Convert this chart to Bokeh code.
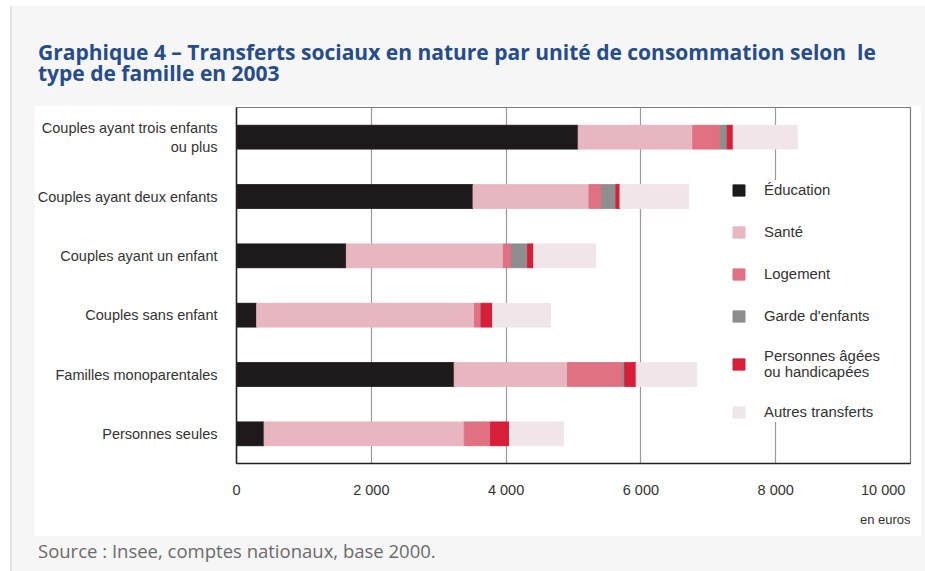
from bokeh.plotting import figure
from bokeh.models import (ColumnDataSource, FactorRange, Range1d, Legend, LegendItem,
                          Title, Div, FixedTicker, Spacer)
from bokeh.layouts import column, row
from bokeh.embed import file_html
from bokeh.resources import INLINE

# ---- data (euros par unité de consommation) ----
categories = ["Couples ayant trois enfants\nou plus", "Couples ayant deux enfants",
              "Couples ayant un enfant", "Couples sans enfant",
              "Familles monoparentales", "Personnes seules"]
education = [5070, 3510, 1630, 300, 3230, 410]
sante = [1700, 1720, 2330, 3230, 1680, 2970]
logement = [410, 190, 120, 100, 820, 390]
garde = [100, 210, 240, 0, 30, 0]
personnes = [90, 60, 90, 170, 170, 280]
autres = [950, 1020, 920, 860, 900, 800]

series_keys = ["education", "sante", "logement", "garde", "personnes", "autres"]
series_labels = ["Éducation", "Santé", "Logement", "Garde d'enfants",
                 "Personnes âgées\nou handicapées", "Autres transferts"]
colors = ["#1e1a1b", "#e8b6c0", "#e07182", "#8e8e8e", "#d71f3a", "#f0e5e9"]
x_ticks = [0, 2000, 4000, 6000, 8000, 10000]
x_tick_labels = ["0", "2 000", "4 000", "6 000", "8 000", "10 000"]

source = ColumnDataSource(dict(cat=categories, education=education, sante=sante,
                               logement=logement, garde=garde, personnes=personnes,
                               autres=autres))

FONT = "Liberation Sans"
TXT = "#333333"
PAGE_BG = "#f6f6f6"

p = figure(width=887, height=431, output_backend="svg", toolbar_location=None,
           y_range=FactorRange(factors=list(reversed(categories))),
           x_range=Range1d(0, 10000),
           min_border_left=202, min_border_right=11, min_border_top=2,
           min_border_bottom=73, border_fill_color="white",
           background_fill_color="white", outline_line_color="#7a7a7a",
           outline_line_width=1.2, margin=0)

renderers = p.hbar_stack(series_keys, y="cat", height=0.4, color=colors, source=source)

# axes
p.xaxis.ticker = FixedTicker(ticks=x_ticks)
overrides = {t: l for t, l in zip(x_ticks, x_tick_labels)}
# the last label sits left of its tick (inside the panel): pad it with figure spaces
overrides[x_ticks[-1]] = x_tick_labels[-1] + "\u2007" * 2
p.xaxis.major_label_overrides = overrides
p.xaxis.major_tick_line_color = None
p.xaxis.minor_tick_line_color = None
p.xaxis.axis_line_color = "#222222"
p.xaxis.axis_line_width = 1.5
p.xaxis.major_label_standoff = 12
p.xaxis.major_label_text_font = FONT
p.xaxis.major_label_text_font_size = "14.5px"
p.xaxis.major_label_text_color = TXT

p.yaxis.major_tick_line_color = None
p.yaxis.minor_tick_line_color = None
p.yaxis.axis_line_color = "#222222"
p.yaxis.axis_line_width = 1.5
p.yaxis.major_label_standoff = 13
p.yaxis.major_label_text_font = FONT
p.yaxis.major_label_text_font_size = "14.5px"
p.yaxis.major_label_text_color = TXT

p.ygrid.grid_line_color = None
p.xgrid.grid_line_color = "#9a9a9a"
p.xgrid.grid_line_width = 1.2

p.add_layout(Title(text="en euros", align="right", text_font=FONT, text_font_size="13px",
                   text_font_style="normal", text_color=TXT, standoff=18), "below")

legend = Legend(items=[LegendItem(label=l, renderers=[r]) for l, r in zip(series_labels, renderers)],
                location=(495, 41), glyph_width=15, glyph_height=14, label_standoff=18,
                label_height=20, spacing=22, padding=10, margin=0,
                label_text_font=FONT, label_text_font_size="14.9px", label_text_color=TXT,
                background_fill_color="white", background_fill_alpha=1.0,
                border_line_color=None)
p.add_layout(legend)

title = Div(text=('<div style="padding:36px 0 0 26px; font-family:\'Open Sans\'; font-weight:700;'
                  ' font-size:21px; line-height:21px; color:#264d8a; white-space:nowrap;">'
                  'Graphique 4 – Transferts sociaux en nature par unité de consommation selon&nbsp; le<br>'
                  'type de famille en 2003</div>'),
            width=913, height=99, margin=0)
src = Div(text=('<div style="padding:4px 0 0 26px; font-family:\'Open Sans\'; font-size:18.5px;'
                ' line-height:22px; color:#6b6b6b; white-space:nowrap;">'
                'Source : Insee, comptes nationaux, base 2000.</div>'),
          width=913, height=35, margin=0)

mid = row(Spacer(width=22, height=431, margin=0, styles={"background-color": PAGE_BG}),
          p,
          Spacer(width=4, height=431, margin=0, styles={"background-color": PAGE_BG}),
          width=913, height=431, margin=0)
main = column(title, mid, src, width=913, height=565, margin=0,
              styles={"background-color": PAGE_BG})
body = row(Spacer(width=10, height=565, margin=0, styles={"background-color": "white"}),
           Spacer(width=2, height=565, margin=0, styles={"background-color": "#e2e2e2"}),
           main, width=925, height=565, margin=0)
layout = column(Spacer(width=925, height=6, margin=0, styles={"background-color": "white"}),
                body, width=925, height=571, margin=0)

open("out.html", "w").write(file_html(layout, INLINE))
